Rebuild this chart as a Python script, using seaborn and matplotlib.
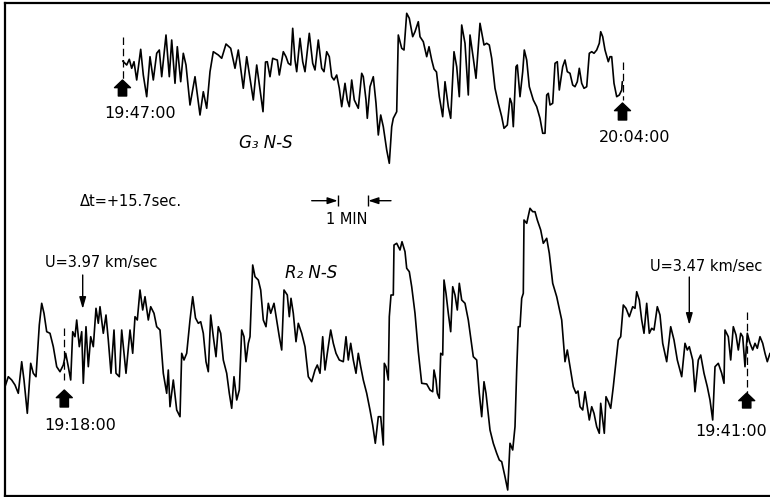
import numpy as np
import pandas as pd
import matplotlib
matplotlib.use('Agg')
import matplotlib.pyplot as plt
import seaborn as sns

# traces, x = chart position, y = position from the top
g3_x = [122.7, 126.7, 129.3, 131.7, 134, 136.7, 140.7, 143.3, 146.7, 150, 153.3, 156.7, 159.3, 161.7,
        166, 169.3, 171.7, 175, 177.3, 180.7, 183.3, 186, 190, 195, 200, 203.3, 206.7, 210, 213.3,
        218.3, 221.7, 226, 230.7, 235, 238.3, 243.3, 246.7, 253.3, 256.7, 263, 265.5, 267.3, 270,
        272.7, 275, 277.3, 279.3, 283.3, 286, 288.3, 290.7, 292.7, 295, 296.7, 300, 302.7, 305, 309.3,
        312.7, 315, 318.3, 321.7, 324, 326.7, 329.3, 331.7, 334, 336.7, 339.3, 341.7, 345, 347.3,
        349.3, 351.7, 354.3, 358.3, 361.7, 363.3, 366, 367.3, 370, 373.3, 376, 378.3, 380.7, 383.3,
        386.7, 389.3, 391.7, 393.3, 396.7, 398.3, 401.7, 404, 406.7, 409.3, 412.7, 415, 418.3, 420,
        423.3, 426.7, 429, 431.7, 434, 436.5, 439.3, 442.7, 445, 448.3, 450.7, 454, 456.7, 459.3,
        461.7, 465, 468.3, 470, 473.3, 476, 480, 484, 486.7, 489.3, 491.7, 495, 498.3, 501.7, 504,
        507.3, 510, 511.7, 513.3, 516, 517.3, 520, 522.7, 524.3, 526.7, 529.3, 533.3, 536.7, 540,
        542.7, 545, 546.7, 548.3, 550, 552.7, 555, 557.3, 559.3, 562.7, 565, 567.3, 570, 572.7, 575,
        577.3, 579.3, 581.7, 584, 586.7, 589.3, 591.7, 594, 596.7, 599.3, 600.7, 602.7, 605, 608.3,
        610, 611.7, 614, 616.7, 619.3, 621.7, 622.3]
g3_y = [61, 65, 59.3, 68.3, 61.7, 80, 49.3, 75, 96.7, 56.7, 80, 53.3, 50, 76.7,
        35, 76.7, 40, 83.3, 46.7, 81.7, 53.3, 65, 105, 76.7, 115, 91.7, 108.3, 71.7, 51.7,
        55, 58.3, 44, 48.3, 68.3, 50, 88.3, 56.7, 100, 65, 111.7, 62, 61.7, 76.7,
        58.3, 59.3, 60, 75, 51.7, 56.7, 63.3, 65, 28.3, 60, 71.7, 38.3, 61.7, 71.7, 33.3,
        63.3, 70, 40, 68.3, 71.7, 51.7, 56.7, 76.7, 80, 75, 88.3, 106.7, 83.3, 100,
        106.7, 80, 100, 108.3, 73.3, 76.7, 100, 118.3, 86.7, 76.7, 103.3, 135, 115, 126.7,
        150, 163.3, 126.7, 118.3, 111.7, 35, 48.3, 50, 13.3, 18.3, 36.7, 31.7, 21.7, 36.7,
        41.7, 56.7, 46.7, 60, 69, 72, 96.7, 116.7, 81.7, 106.7, 118.3, 51.7, 66.7, 96.7,
        25, 43.3, 95, 35, 58.3, 78.3, 23.3, 45, 43.3, 45, 58.3, 88.3, 103.3, 116.7, 128.3,
        125, 98.3, 103.3, 126.7, 66.7, 65, 96.7, 71.7, 50, 60, 86.7, 100, 106.7, 118.3,
        133.3, 133.3, 95, 93.3, 105, 103.3, 63.3, 61.7, 90, 66.7, 60, 71.7, 73.3, 85, 86.7,
        81.7, 68.3, 83.3, 88.3, 86.7, 53.3, 51.7, 53.3, 50, 43.3, 31.7, 36.7, 50, 61.7,
        56.7, 56.7, 83.3, 96.7, 95, 90, 81.7]

r2_x = [5, 8.3, 11.7, 15, 18.3, 21.7, 24, 27.3, 30.7, 33.3, 36, 39.3, 41.7, 44, 46.7, 50, 53.3,
        56.7, 60, 63.3, 65.7, 68.3, 70.7, 72.7, 75, 76.7, 79.3, 81.7, 83.3, 86, 88.3, 90.7, 93.3,
        96, 98.3, 100, 103.3, 106, 108.3, 111, 114, 116, 119.3, 121.7, 124, 126, 130, 132.7, 135,
        137.3, 140, 142.7, 145, 148.3, 150.7, 154, 156.7, 160, 163.3, 166.7, 168.3, 170, 173.3,
        176.7, 180, 181.7, 184, 186.7, 190, 192.7, 195.5, 198.3, 200.7, 203.3, 206, 208.3, 210.7,
        213.3, 216, 218.3, 220.7, 223.3, 226.7, 229.3, 231.7, 234, 236.7, 239.3, 241.7, 244, 246,
        248.3, 250, 252.7, 255, 258.3, 260.7, 263.3, 266, 268.3, 270.7, 274, 276.7, 279.3, 281.7,
        284, 287.3, 289.3, 291, 293.3, 296, 298.3, 301.7, 305, 308.3, 311.7, 315, 317.3, 320,
        322.7, 325, 327.3, 330.7, 333.3, 336, 339.3, 343.3, 346, 348.3, 350.7, 353.3, 356, 358.3,
        360.7, 363.3, 366.7, 370, 372.7, 375.3, 378.3, 380.7, 383.3, 384.3, 386, 388.3, 389.3,
        391, 393.3, 394, 396.7, 400, 402, 405, 406.7, 409.3, 411.7, 415, 418.3, 421.7, 426.7, 430,
        432.7, 434, 436, 437.3, 439.3, 440.7, 442.7, 444, 446, 448.3, 450.7, 452.7, 455, 457.3,
        459.3, 461.7, 465, 468.3, 473.3, 476.7, 479.3, 481.7, 484, 486, 490, 493.3, 496.7, 499.3,
        501.7, 505, 507.7, 510, 512.7, 515, 516.7, 518.3, 520, 521.7, 523.3, 524, 526.7, 530,
        532.7, 535, 537.3, 540.7, 543.3, 546.7, 549.3, 552.7, 556.7, 561.7, 565, 567.3, 570,
        573.3, 576, 578, 580, 582.7, 585, 587.3, 589.3, 591.7, 594, 596.7, 599.3, 600.7, 602.7,
        604.3, 606, 608.3, 610.7, 613.3, 616, 618.3, 620.7, 623.3, 626, 629.3, 632.7, 635, 636.7,
        639.3, 641.7, 644, 646.7, 649.3, 651.7, 654, 657.3, 660, 662.7, 666.7, 670.7, 674, 677.3,
        681.7, 685, 687.3, 689.3, 692.7, 695, 698.3, 700.7, 704, 707.3, 710, 712.7, 715, 718.3,
        721.7, 724, 725, 728.3, 730.7, 733.3, 736, 738.3, 740.7, 742.7, 745, 747.3, 750, 752.7,
        755, 757.3, 760, 762.7, 765, 767.3, 770]
r2_y = [386.7, 376.7, 380, 385, 393.3, 361.7, 380, 413.3, 363.3, 373.3, 376.7, 325, 303.3, 313.3,
        331.7, 333.3, 346.7, 366.7, 371.7, 365, 353.3, 366.7, 380, 331.7, 336.7, 320, 346.7, 331.7,
        383.3, 326.7, 366.7, 336.7, 346.7, 308.3, 323.3, 306.7, 333.3, 315, 340, 373.3, 330, 373.3,
        376.7, 330, 353.3, 373.3, 330, 353.3, 316.7, 320, 290, 310, 296.7, 320, 306.7, 313.3, 326.7,
        330, 373.3, 393.3, 370, 406.7, 380, 410, 416.7, 353.3, 360, 353.3, 320, 296.7, 318, 323.3,
        321.7, 333.3, 361.7, 371.7, 315, 336.7, 356.7, 326.7, 333.3, 360, 373.3, 393.3, 408.3,
        376.7, 400, 390, 330, 336.7, 361.7, 343.3, 336.7, 265, 276.7, 280, 290, 320, 326.7, 303.3,
        313.3, 303.3, 320, 336.7, 350, 290, 295, 316.7, 298.3, 313.3, 341.7, 323.3, 333.3, 346.7,
        376.7, 381.7, 370, 365, 373.3, 336.7, 370, 353.3, 330, 343.3, 353.3, 360, 361.7, 336.7,
        360, 343.3, 360, 373.3, 353.3, 366.7, 380, 393.3, 410, 425, 443.3, 416.7, 416.7, 445,
        363.3, 366.7, 380, 316.7, 295, 295, 245, 243.3, 250, 241.7, 251.7, 268.3, 271.7, 286.7,
        313.3, 351.7, 383.3, 384, 390, 391.7, 370, 380, 393.3, 398.3, 353.3, 355, 280, 293.3,
        313.3, 331.7, 286.7, 295, 310, 283.3, 300, 303.3, 320, 356.7, 360, 393.3, 416.7, 381.7,
        393.3, 430, 443.3, 453.3, 460, 461.7, 476.7, 490, 443.3, 450, 426.7, 370, 326.7, 326.7,
        298.3, 293.3, 220, 223.3, 208.3, 211.7, 211.7, 220, 230, 243.3, 238.3, 253.3, 283.3,
        296.7, 320, 361.7, 350, 366.7, 386.7, 393.3, 391, 406.7, 410, 391.7, 406.7, 420, 406.7,
        413.3, 426.7, 433.3, 403.3, 420, 433.3, 396.7, 401.7, 408.3, 386.7, 361.7, 340, 336.7,
        305, 308.3, 316.7, 306.7, 308.3, 291.7, 300, 320, 333.3, 303.3, 333.3, 328.3, 330, 306.7,
        315, 343.3, 361.7, 326.7, 340, 360, 376.7, 343.3, 350, 346.7, 360, 391.7, 360, 355, 373.3,
        386.7, 400, 420, 366.7, 363.3, 373.3, 383.3, 330, 336.7, 360, 326.7, 335, 350, 333.3,
        336.7, 366.7, 333.3, 343.3, 350, 343.3, 348.3, 336.7, 343.3, 353.3, 361.7, 353.3]

g3 = pd.DataFrame({'t': g3_x, 'amp': g3_y})
r2 = pd.DataFrame({'t': r2_x, 'amp': r2_y})

sns.set_style('white')
plt.rcParams['font.family'] = ['DejaVu Sans']

fig = plt.figure(figsize=(7.7, 4.97), dpi=100)
ax = fig.add_axes([5/770, 1/497, 1, 493/497])

sns.lineplot(data=g3, x='t', y='amp', ax=ax, color='black', lw=1.2, estimator=None, sort=False)
sns.lineplot(data=r2, x='t', y='amp', ax=ax, color='black', lw=1.2, estimator=None, sort=False)

ax.set_xlim(5, 775)
ax.set_ylim(496, 3)
ax.set_xticks([])
ax.set_yticks([])
ax.set_xlabel('')
ax.set_ylabel('')
for side in ['top', 'left', 'bottom']:
    ax.spines[side].set_color('black')
    ax.spines[side].set_linewidth(1.6)
ax.spines['right'].set_visible(False)

# time marks: dashed line plus block arrow
marks = [(122.5, 37, 80, 80, 96), (622.5, 62, 100, 103, 120),
         (64.3, 328, 380, 390, 407), (746.7, 312, 393, 393, 408)]
for x, d0, d1, a0, a1 in marks:
    ax.vlines(x, d0, d1, color='black', lw=0.9, linestyle=(0, (6, 3)))
    ax.annotate('', xy=(x, a0), xytext=(x, a1),
                arrowprops=dict(arrowstyle='simple,head_length=0.55,head_width=1.15,tail_width=0.6',
                                fc='black', ec='black', shrinkA=0, shrinkB=0))

# thin arrows for group velocity
for x, y0, y1 in [(82.7, 275, 309), (689.3, 277, 325)]:
    ax.annotate('', xy=(x, y1), xytext=(x, y0),
                arrowprops=dict(arrowstyle='-|>,head_length=0.7,head_width=0.2',
                                color='black', lw=1.0, shrinkA=0, shrinkB=0))

# 1 min scale bar
ax.annotate('', xy=(337.7, 200.7), xytext=(311.7, 200.7),
            arrowprops=dict(arrowstyle='-|>,head_length=0.6,head_width=0.2',
                            color='black', lw=1.0, shrinkA=0, shrinkB=0))
ax.annotate('', xy=(368.3, 200.7), xytext=(391, 200.7),
            arrowprops=dict(arrowstyle='-|>,head_length=0.6,head_width=0.2',
                            color='black', lw=1.0, shrinkA=0, shrinkB=0))
ax.vlines([337.7, 368.3], 195, 206, color='black', lw=1.0)

txt = dict(color='black', va='center', ha='left')
ax.text(104, 114, '19:47:00', fontsize=11.5, **txt)
ax.text(599, 137, '20:04:00', fontsize=11.5, **txt)
ax.text(239, 143, 'G₃ N-S', fontsize=12, style='italic', **txt)
ax.text(80, 201, 'Δt=+15.7sec.', fontsize=10.5, **txt)
ax.text(326, 220, '1 MIN', fontsize=10.5, **txt)
ax.text(45, 263, 'U=3.97 km/sec', fontsize=10.5, **txt)
ax.text(285, 273, 'R₂ N-S', fontsize=12, style='italic', **txt)
ax.text(650, 267, 'U=3.47 km/sec', fontsize=10.5, **txt)
ax.text(44, 425, '19:18:00', fontsize=11.5, **txt)
ax.text(695, 432, '19:41:00', fontsize=11.5, **txt)

fig.savefig('out.png', dpi=100)
